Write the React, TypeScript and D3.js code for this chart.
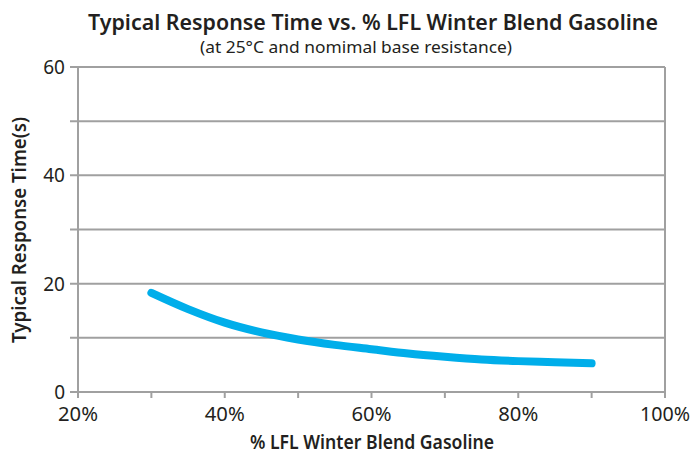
import React from 'react';
import * as d3 from 'd3';

const lflPercent = [30, 35, 40, 45, 50, 55, 60, 65, 70, 75, 80, 85, 90];
const responseTime = [18.3, 15.3, 12.8, 11.0, 9.7, 8.7, 7.9, 7.1, 6.5, 6.0, 5.7, 5.5, 5.3];
const xTicks = [20, 30, 40, 50, 60, 70, 80, 90, 100];
const xLabels = [20, 40, 60, 80, 100];
const yGrid = [0, 10, 20, 30, 40, 50, 60];
const yLabels = [0, 20, 40, 60];

const width = 696;
const height = 460;
const margin = { top: 67, right: 31, bottom: 68, left: 78 };
const font = '"Noto Sans", "DejaVu Sans", sans-serif';
const grey = '#a0a0a0';
const textColor = '#231f20';

export default function App() {
  const x = d3.scaleLinear().domain([20, 100]).range([margin.left, width - margin.right]);
  const y = d3.scaleLinear().domain([0, 60]).range([height - margin.bottom, margin.top]);

  const line = d3.line<number>()
    .x((_, i) => x(lflPercent[i]))
    .y(d => y(d))
    .curve(d3.curveMonotoneX);

  const x0 = x(20);
  const x1 = x(100);
  const yBottom = y(0);

  return (
    <svg width={width} height={height} style={{ position: 'absolute', left: 0, top: 0 }}>
      <rect width={width} height={height} fill="#fff" />
      <text x={373} y={30} textAnchor="middle" fontFamily={font} fontSize={22} fontWeight={600}
        fill={textColor} textLength={570} lengthAdjust="spacingAndGlyphs">
        Typical Response Time vs. % LFL Winter Blend Gasoline
      </text>
      <text x={356} y={53} textAnchor="middle" fontFamily={font} fontSize={15.5}
        fill={textColor} textLength={312} lengthAdjust="spacingAndGlyphs">
        (at 25°C and nomimal base resistance)
      </text>

      {yGrid.map(v => (
        <line key={'g' + v} x1={x0 - 8} x2={x1} y1={y(v)} y2={y(v)} stroke={grey} strokeWidth={2} />
      ))}
      <line x1={x0} x2={x0} y1={y(60)} y2={yBottom + 6} stroke={grey} strokeWidth={2} />
      <line x1={x1} x2={x1} y1={y(60)} y2={yBottom + 6} stroke={grey} strokeWidth={2} />
      {xTicks.map(v => (
        <line key={'t' + v} x1={x(v)} x2={x(v)} y1={yBottom} y2={yBottom + 6} stroke={grey} strokeWidth={2} />
      ))}

      {yLabels.map(v => (
        <text key={'yl' + v} x={x0 - 13} y={y(v) + 7} textAnchor="end" fontFamily={font} fontSize={19}
          fill={textColor}>{v}</text>
      ))}
      {xLabels.map(v => (
        <text key={'xl' + v} x={x(v)} y={421} textAnchor="middle" fontFamily={font} fontSize={19}
          fill={textColor} textLength={v === 100 ? 50 : 40} lengthAdjust="spacingAndGlyphs">{v}%</text>
      ))}

      <path d={line(responseTime) || ''} fill="none" stroke="#00aeea" strokeWidth={8} strokeLinecap="round" />

      <text x={372} y={449} textAnchor="middle" fontFamily={font} fontSize={20} fontWeight={600}
        fill={textColor} textLength={244} lengthAdjust="spacingAndGlyphs">
        % LFL Winter Blend Gasoline
      </text>
      <text transform="translate(26,230) rotate(-90)" textAnchor="middle" fontFamily={font} fontSize={20}
        fontWeight={600} fill={textColor} textLength={226} lengthAdjust="spacingAndGlyphs">
        Typical Response Time(s)
      </text>
    </svg>
  );
}
